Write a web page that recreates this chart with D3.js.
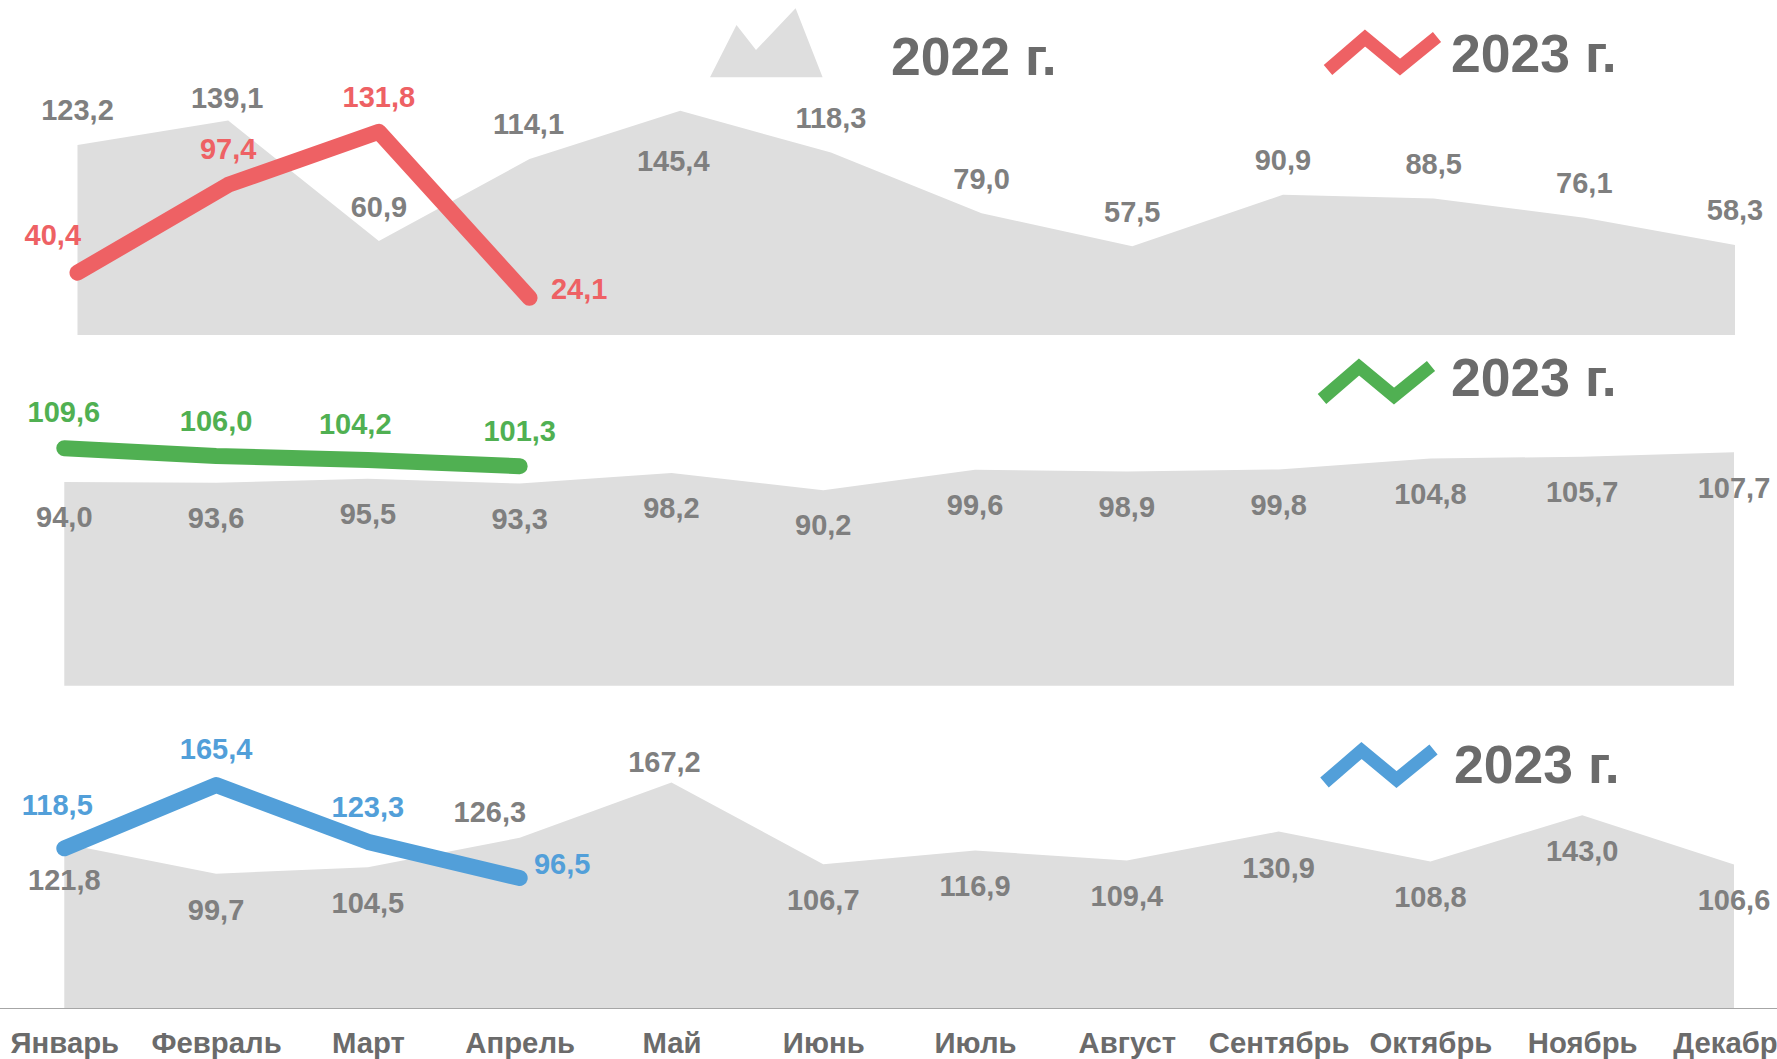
<!DOCTYPE html>
<html>
<head>
<meta charset="utf-8">
<script src="https://cdn.jsdelivr.net/npm/d3@7"></script>
<style>
    html, body { margin: 0; padding: 0; background: #fff; overflow: hidden; }
    text { font-family: "Liberation Sans", Arial, sans-serif; font-weight: bold; }
</style>
</head>
<body>
<svg id="chart"></svg>
<script>
const months = ['Январь', 'Февраль', 'Март', 'Апрель', 'Май', 'Июнь', 'Июль', 'Август', 'Сентябрь', 'Октябрь', 'Ноябрь', 'Декабрь']
const months2023 = months.slice(0, 4)

// 2022 values
const topValues2022 = [123.2, 139.1, 60.9, 114.1, 145.4, 118.3, 79.0, 57.5, 90.9, 88.5, 76.1, 58.3]
const midValues2022 = [94.0, 93.6, 95.5, 93.3, 98.2, 90.2, 99.6, 98.9, 99.8, 104.8, 105.7, 107.7]
const lowValues2022 = [121.8, 99.7, 104.5, 126.3, 167.2, 106.7, 116.9, 109.4, 130.9, 108.8, 143.0, 106.6]

// 2023 values
const topValues2023 = [40.4, 97.4, 131.8, 24.1]
const midValues2023 = [109.6, 106.0, 104.2, 101.3]
const lowValues2023 = [118.5, 165.4, 123.3, 96.5]

// label offsets from the point, [dx, dy to the text baseline]
const topOffsets2022 = [[0, -25.5], [-1, -13], [0, -24.5], [-1, -25], [-7, 60.5], [0, -25], [0, -24.5], [0, -24.5], [0, -25], [0, -25], [0, -25], [0, -25]]
const topOffsets2023 = [[-24.7, -27.7], [0, -25.5], [0, -24.5], [49.6, 1.5]]
const midOffsets2022 = months.map(() => [0, 45.2])
const midOffsets2023 = [[-0.5, -25.9], [0, -25.3], [-12.6, -25.6], [0, -25.5]]
const lowOffsets2022 = [[0, 45.7], [0, 46], [0, 45.7], [-29.8, -15.3], [-7, -10.3], [0, 46], [0, 45.8], [0, 45.7], [0, 46.3], [0, 45.7], [0, 46], [0, 46]]
const lowOffsets2023 = [[-7, -33.3], [0, -25.7], [0, -25.3], [42.5, -3.6]]

const width = 1777
const height = 1059
const areaColor = '#dedede'
const labelColor = '#7f7f7f'
const titleColor = '#6b6b6b'
const red = '#ee6164'
const green = '#50b052'
const blue = '#529fd9'

const svg = d3.select('#chart')
    .attr('width', width)
    .attr('height', height)
    .style('display', 'block')

const formatValue = v => v.toFixed(1).replace('.', ',')

function DrawPanel(xScale, yScale, values2022, values2023, offsets2022, offsets2023, color) {
    const area = d3.area()
        .x((d, i) => xScale(months[i]))
        .y0(yScale(0))
        .y1(d => yScale(d))

    svg.append('path')
        .datum(values2022)
        .attr('d', area)
        .attr('fill', areaColor)

    const line = d3.line()
        .x((d, i) => xScale(months2023[i]))
        .y(d => yScale(d))

    svg.append('path')
        .datum(values2023)
        .attr('d', line)
        .attr('fill', 'none')
        .attr('stroke', color)
        .attr('stroke-width', 16)
        .attr('stroke-linecap', 'round')
        .attr('stroke-linejoin', 'round')

    svg.append('g').selectAll('text')
        .data(values2022)
        .enter()
        .append('text')
        .attr('x', (d, i) => xScale(months[i]) + offsets2022[i][0])
        .attr('y', (d, i) => yScale(d) + offsets2022[i][1])
        .attr('text-anchor', 'middle')
        .attr('font-size', 29)
        .attr('fill', labelColor)
        .text(formatValue)

    svg.append('g').selectAll('text')
        .data(values2023)
        .enter()
        .append('text')
        .attr('x', (d, i) => xScale(months2023[i]) + offsets2023[i][0])
        .attr('y', (d, i) => yScale(d) + offsets2023[i][1])
        .attr('text-anchor', 'middle')
        .attr('font-size', 29)
        .attr('fill', color)
        .text(formatValue)
}

// X scales
const xTop = d3.scalePoint().domain(months).range([77.5, 1735])
const xLow = d3.scalePoint().domain(months).range([64.3, 1734])

// Y scales, all start at zero
const yTop = d3.scaleLinear().domain([0, 200]).range([335, 335 - 1.542 * 200])
const yMid = d3.scaleLinear().domain([0, 100]).range([685.7, 685.7 - 216.7])
const yLow = d3.scaleLinear().domain([0, 200]).range([1008.3, 1008.3 - 1.35 * 200])

DrawPanel(xTop, yTop, topValues2022, topValues2023, topOffsets2022, topOffsets2023, red)
DrawPanel(xLow, yMid, midValues2022, midValues2023, midOffsets2022, midOffsets2023, green)
DrawPanel(xLow, yLow, lowValues2022, lowValues2023, lowOffsets2022, lowOffsets2023, blue)

// Bottom axis with month names
const axis = svg.append('g')
    .attr('transform', 'translate(0, 1008.5)')
    .call(d3.axisBottom(xLow).tickSize(0).tickPadding(23.6))
axis.select('.domain').remove()
axis.selectAll('text')
    .attr('font-size', 29.3)
    .attr('font-family', '"Liberation Sans", Arial, sans-serif')
    .attr('fill', titleColor)
svg.append('line')
    .attr('x1', 0)
    .attr('x2', width)
    .attr('y1', 1008.5)
    .attr('y2', 1008.5)
    .attr('stroke', '#a6a6a6')
    .attr('stroke-width', 1)

// Legend icons
const mountainShape = [[0, 0], [26.5, 52.3], [46, 27.3], [85.6, 69], [112.6, 0]]
const zigzagShape = [[0, 33], [37, 1], [72, 30], [109, 0]]

svg.append('polygon')
    .attr('points', mountainShape.map(p => [710 + p[0], 77.3 - p[1]].join(',')).join(' '))
    .attr('fill', areaColor)

function DrawZigzag(left, top, color) {
    svg.append('polyline')
        .attr('points', zigzagShape.map(p => [left + p[0], top + p[1]].join(',')).join(' '))
        .attr('fill', 'none')
        .attr('stroke', color)
        .attr('stroke-width', 13)
        .attr('stroke-linejoin', 'miter')
}
DrawZigzag(1328, 37, red)
DrawZigzag(1322, 366, green)
DrawZigzag(1324.5, 749.5, blue)

// Year titles
const titles = [
    ['2022 г.', 891, 75],
    ['2023 г.', 1451, 72.3],
    ['2023 г.', 1451, 396],
    ['2023 г.', 1454, 783.3]
]
svg.append('g').selectAll('text')
    .data(titles)
    .enter()
    .append('text')
    .attr('x', d => d[1])
    .attr('y', d => d[2])
    .attr('font-size', 53.5)
    .attr('fill', titleColor)
    .text(d => d[0])
</script>
</body>
</html>
